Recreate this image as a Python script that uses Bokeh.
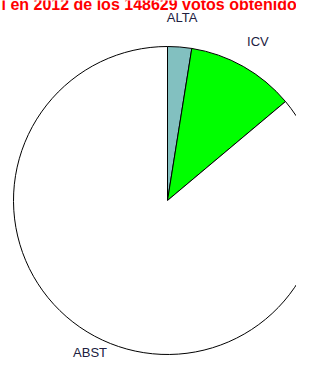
from bokeh.plotting import figure
from bokeh.models import Range1d, ColumnDataSource
from bokeh.core.properties import value
from bokeh.embed import file_html
from bokeh.resources import INLINE
import math

# --- data ---
categories = ["ALTA", "ICV", "ABST"]
votes = [3750, 16900, 127979]
colors = ["#82C0C0", "#00FF00", "#FFFFFF"]
title_text = "l en 2012 de los  148629 votos obtenidos"

# layout (pixel coordinates, y measured downward -> stored negative)
W, H = 296, 360
cx, cy = 167, -200
r = 154
label_factor = 1.19

total = sum(votes)
starts, ends, lx, ly = [], [], [], []
cum = 0.0
for v in votes:
    a0 = cum / total * 360.0
    cum += v
    a1 = cum / total * 360.0
    starts.append(90.0 - a0)
    ends.append(90.0 - a1)
    mid = math.radians(90.0 - (a0 + a1) / 2.0)
    lx.append(cx + label_factor * r * math.cos(mid))
    # keep labels inside the canvas
    ly.append(max(cy + label_factor * r * math.sin(mid), -(H - 8)))

src = ColumnDataSource(dict(x=[cx] * len(votes), y=[cy] * len(votes),
                            start=starts, end=ends, color=colors,
                            lx=lx, ly=ly, label=categories))

p = figure(width=W, height=H, output_backend="svg", toolbar_location=None,
           x_range=Range1d(0, W), y_range=Range1d(-H, 0),
           min_border=0)
p.axis.visible = False
p.grid.visible = False
p.outline_line_color = None
p.background_fill_color = "white"
p.border_fill_color = "white"

p.wedge(x="x", y="y", radius=r, start_angle="start", end_angle="end",
        start_angle_units="deg", end_angle_units="deg", direction="clock",
        fill_color="color", line_color="black", line_width=1, source=src)

p.text(x="lx", y="ly", text="label", source=src,
       text_font=value("Liberation Sans"), text_font_size="13px",
       text_color="#202040", text_align="center", text_baseline="middle")

p.text(x=[1], y=[-4], text=[title_text],
       text_font=value("Liberation Sans"), text_font_size="16px",
       text_font_style="bold", text_color="#FF0000",
       text_align="left", text_baseline="middle")

open("out.html", "w").write(file_html(p, INLINE))
